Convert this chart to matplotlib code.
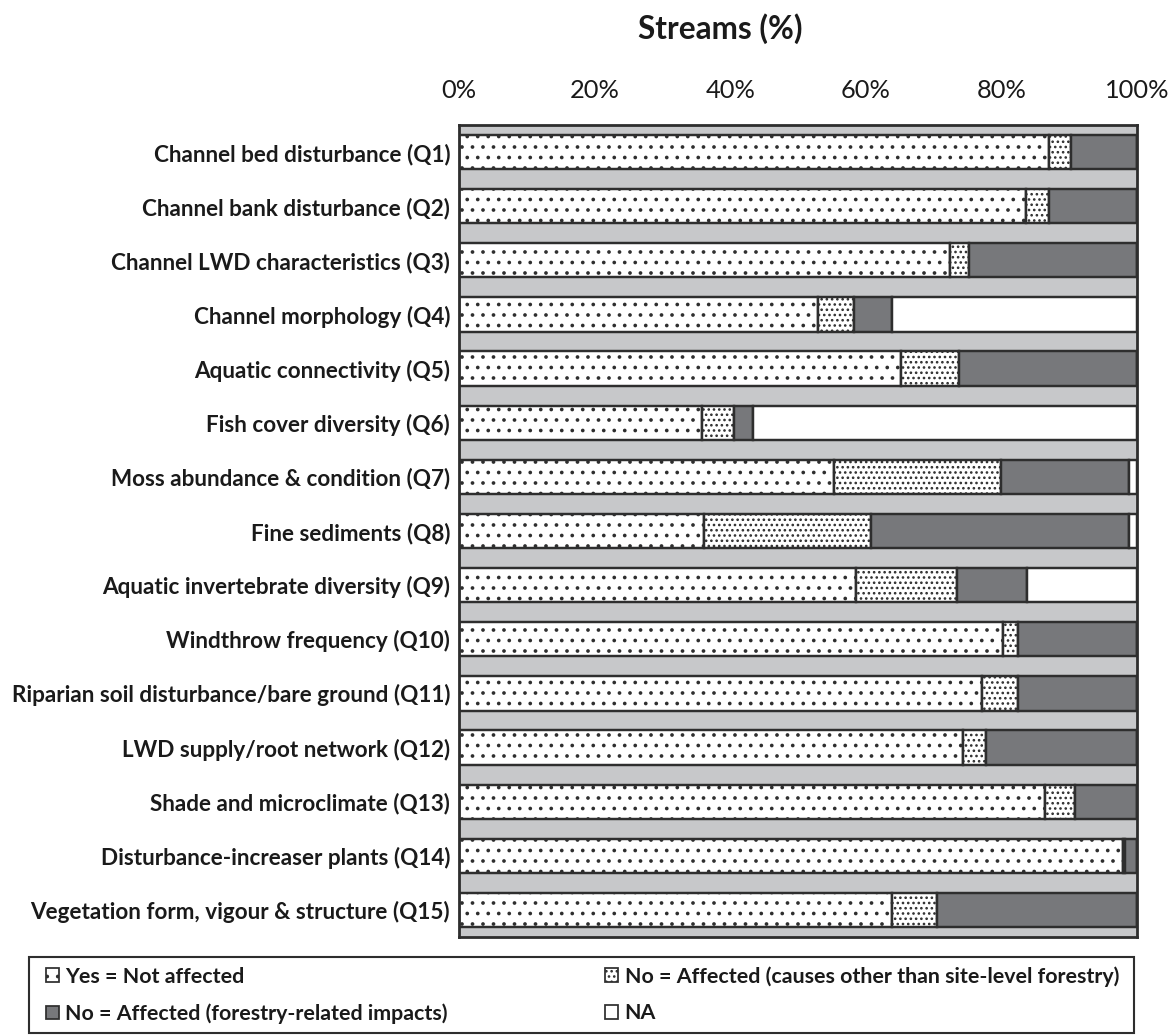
import matplotlib.pyplot as plt
import numpy as np
from matplotlib.patches import Patch, Rectangle

# survey answers per question, % of streams
questions = ["Channel bed disturbance (Q1)", "Channel bank disturbance (Q2)",
             "Channel LWD characteristics (Q3)", "Channel morphology (Q4)",
             "Aquatic connectivity (Q5)", "Fish cover diversity (Q6)",
             "Moss abundance & condition (Q7)", "Fine sediments (Q8)",
             "Aquatic invertebrate diversity (Q9)", "Windthrow frequency (Q10)",
             "Riparian soil disturbance/bare ground (Q11)", "LWD supply/root network (Q12)",
             "Shade and microclimate (Q13)", "Disturbance-increaser plants (Q14)",
             "Vegetation form, vigour & structure (Q15)"]
yes_not_affected = [87.0, 83.7, 72.4, 52.9, 65.2, 35.8, 55.3, 36.1, 58.5, 80.3, 77.1, 74.3, 86.5, 97.9, 63.9]
affected_other = [3.2, 3.3, 2.8, 5.4, 8.6, 4.8, 24.6, 24.6, 14.9, 2.2, 5.4, 3.4, 4.3, 0.4, 6.6]
affected_forestry = [9.8, 13.0, 24.8, 5.5, 26.2, 2.8, 18.9, 38.1, 10.4, 17.5, 17.5, 22.3, 9.2, 1.7, 29.5]
not_applicable = [0, 0, 0, 36.2, 0, 56.6, 1.2, 1.2, 16.2, 0, 0, 0, 0, 0, 0]
xticks = [0, 20, 40, 60, 80, 100]

DPI = 126
plt.rcParams['font.family'] = ['Lato', 'DejaVu Sans']
plt.rcParams['hatch.linewidth'] = 0.9

edge = '#2e2e2e'
W, H = 1176, 1036
fig = plt.figure(figsize=(W / DPI, H / DPI), dpi=DPI)
ax = fig.add_axes([459 / W, 99 / H, 678 / W, 812 / H])
ax.set_facecolor('#c7c8ca')

y = np.arange(len(questions))
h = 0.634
left = np.zeros(len(questions))
series = [
    (yes_not_affected, 'white', '..'),
    (affected_other, 'white', '....'),
    (affected_forestry, '#77787b', None),
    (not_applicable, 'white', None),
]
for vals, col, hatch in series:
    ax.barh(y, vals, left=left, height=h, color=col, edgecolor=edge,
            linewidth=1.4, hatch=hatch)
    left = left + np.array(vals)

ax.set_xlim(0, 100)
ax.set_ylim(-0.5, len(questions) - 0.5)
ax.invert_yaxis()
ax.xaxis.tick_top()
ax.set_xticks(xticks)
ax.set_xticklabels([f"{t}%" for t in xticks], fontsize=14.5, color='#1a1a1a')
ax.tick_params(axis='x', length=0, pad=13)
ax.set_yticks(y)
ax.set_yticklabels(questions, fontsize=12.9, fontweight='bold', color='#1a1a1a')
ax.tick_params(axis='y', length=0, pad=5)
for s in ax.spines.values():
    s.set_color(edge)
    s.set_linewidth(1.6)

fig.text(720 / W, 1 - 29 / H, "Streams (%)", ha='center', va='center',
         fontsize=18, fontweight='bold', color='#1a1a1a')

handles = [
    Patch(facecolor='white', edgecolor=edge, hatch='..', label='Yes = Not affected'),
    Patch(facecolor='#77787b', edgecolor=edge, label='No = Affected (forestry-related impacts)'),
    Patch(facecolor='white', edgecolor=edge, hatch='....',
          label='No = Affected (causes other than site-level forestry)'),
    Patch(facecolor='white', edgecolor=edge, label='NA'),
]
# legend box drawn separately so the inner padding can differ from the frame
fig.patches.append(Rectangle((29 / W, 3 / H), 1105 / W, 76 / H, transform=fig.transFigure,
                             fill=False, edgecolor=edge, linewidth=1.2))
leg = fig.legend(handles=handles, ncol=2, mode='expand',
                 bbox_to_anchor=(46 / W, 3 / H, 1073 / W, 76 / H),
                 loc='center left', frameon=False,
                 prop={'weight': 'bold', 'size': 12.2},
                 handlelength=0.6, handleheight=0.6, handletextpad=0.3,
                 labelspacing=0.78, borderpad=0, borderaxespad=0)
for t in leg.get_texts():
    t.set_color('#1a1a1a')

fig.savefig('out.png', dpi=DPI)
